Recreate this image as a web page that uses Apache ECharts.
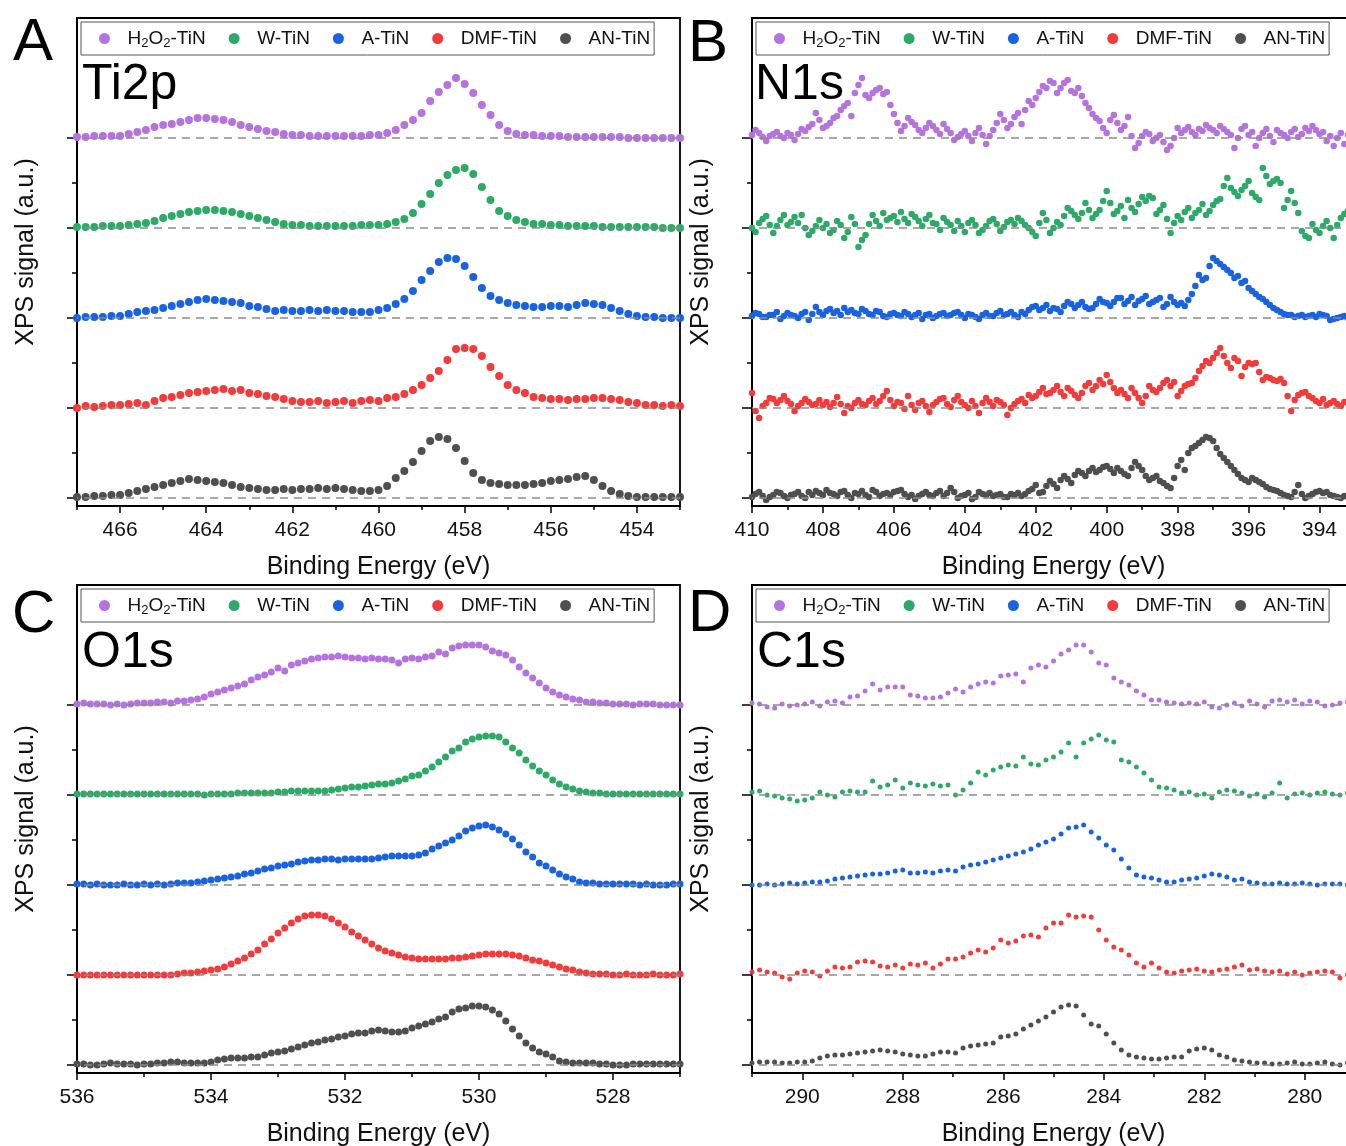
<!DOCTYPE html>
<html>
<head>
<meta charset="utf-8">
<title>XPS spectra</title>
<script src="https://cdn.jsdelivr.net/npm/echarts@6/dist/echarts.min.js"></script>
<style>
  body { margin: 0; background: #fff; }
  #main { width: 1346px; height: 1146px; }
</style>
</head>
<body>
<div id="main"></div>
<script>
// samples, top to bottom
var sampleNames = ['H2O2-TiN', 'W-TiN', 'A-TiN', 'DMF-TiN', 'AN-TiN'];
var sampleColors = ['#B473DE', '#2EAA68', '#1A63E0', '#F23B3B', '#4F4F4F'];
// vertical offset of each stacked spectrum (a.u.)
var baselines = [360, 270, 180, 90, 0];
var minorLevels = [45, 135, 225, 315];

// ---- Ti2p ----
var ti2pStart = 467, ti2pStep = 0.2;
var ti2pTicks = [454, 456, 458, 460, 462, 464, 466];
var ti2pMinorTicks = [453, 455, 457, 459, 461, 463, 465, 467];
var ti2pH2O2 = [1,1,2,2,2,2,4,6,8,11,13,14,16,18,20,20,19,18,16,13,11,9,7,6,4,3,3,2,2,2,2,2,2,2,3,3,5,8,13,18,25,37,46,53,60,54,45,33,23,13,7,4,3,3,2,2,2,1,1,1,1,1,1,1,0,0,0,0,0,0,0];
var ti2pW = [1,1,1,2,2,2,3,4,5,7,10,12,14,16,17,18,18,17,16,14,12,10,8,6,4,3,3,2,2,2,2,2,2,3,3,3,4,6,9,15,24,34,45,53,58,60,54,41,28,17,12,8,6,4,4,3,3,2,2,2,2,1,1,1,1,1,1,1,0,0,0];
var ti2pA = [0,1,1,1,2,2,4,6,7,8,10,12,14,16,18,19,18,17,16,15,12,11,9,7,8,7,7,8,7,8,7,7,6,6,6,8,10,14,19,27,38,47,56,60,59,52,41,30,22,18,15,13,12,11,11,12,12,11,13,15,14,13,10,7,4,2,1,1,0,0,0];
var ti2pDMF = [0,2,1,2,3,3,4,5,3,7,10,11,13,15,16,17,18,19,17,18,15,14,12,11,9,7,6,6,7,5,6,7,5,7,8,7,10,11,14,18,23,30,37,48,59,60,59,52,41,32,23,18,15,11,10,9,9,8,9,9,10,10,9,8,6,5,3,3,2,3,2];
var ti2pAN = [1,1,2,2,3,3,5,7,9,11,13,15,17,19,18,17,16,15,13,11,10,9,8,8,9,8,9,9,10,9,10,9,8,7,7,8,12,20,27,36,47,57,61,59,50,37,25,18,15,14,13,13,13,14,15,17,18,19,21,22,18,12,7,4,2,1,1,1,1,1,1];

// ---- N1s ----
var n1sStart = 410, n1sStep = 0.1;
var n1sTicks = [394, 396, 398, 400, 402, 404, 406, 408, 410];
var n1sMinorTicks = [393, 395, 397, 399, 401, 403, 405, 407, 409];
var n1sH2O2 = [
    3,8,5,1,-3,2,4,6,2,0,5,3,-2,4,9,7,11,14,25,18,
    10,12,15,20,22,28,32,35,22,45,53,60,43,40,45,48,50,44,46,33,
    24,15,7,12,20,16,13,8,5,10,15,12,8,4,14,9,5,-2,1,4,
    7,2,-3,5,10,3,-6,2,8,15,24,18,10,14,21,25,14,28,37,33,
    40,46,52,50,57,55,45,50,55,58,47,45,50,42,35,30,24,20,17,10,
    5,18,23,15,8,12,21,2,-10,-5,2,6,4,-3,0,3,-4,-12,-8,0,
    10,5,8,11,6,3,9,7,13,10,8,5,12,9,6,3,-10,0,9,12,
    3,6,-8,0,5,9,2,-4,8,5,3,0,6,9,1,4,10,7,12,8,
    4,6,-3,2,-8,0,5,-6,3,7,2];
var n1sW = [
    0,-4,5,9,12,3,-5,2,8,13,3,6,11,5,13,0,-7,-3,2,8,
    0,4,-5,-2,7,3,-10,-4,11,4,-19,-12,-7,4,13,7,2,15,8,10,
    12,6,16,9,5,14,11,7,2,9,13,5,4,-2,10,6,3,-3,7,2,
    -4,5,8,3,-5,-2,2,7,9,4,-3,1,6,8,4,10,7,3,0,-4,
    -8,5,15,8,-5,0,6,3,12,20,17,13,9,15,25,18,10,14,18,27,
    37,25,14,17,22,10,28,20,16,24,31,27,32,30,14,18,23,9,-5,5,
    12,8,16,20,10,15,18,24,13,17,23,27,29,42,50,40,36,32,38,42,
    47,35,31,28,60,52,44,47,49,45,20,28,37,25,15,-3,-8,-10,4,-2,
    -5,2,7,0,-10,3,10,14,17,8,2];
var n1sA = [
    2,5,4,1,1,3,3,6,-1,2,5,3,2,0,4,6,-2,4,11,6,
    3,7,9,5,7,3,10,6,8,5,4,9,7,4,3,7,6,2,1,4,
    5,3,2,6,4,1,3,5,-1,3,4,0,2,4,5,2,3,5,6,3,
    0,4,3,1,-1,3,5,2,2,5,7,3,4,6,3,1,6,4,8,11,
    12,8,10,13,7,10,9,6,12,16,14,10,13,16,11,9,10,14,19,16,
    15,12,16,20,20,14,17,21,13,17,19,22,14,16,18,20,11,14,21,16,
    13,15,12,18,24,32,43,38,40,52,60,57,54,51,48,45,40,42,35,37,
    30,27,24,21,19,16,13,10,8,6,4,3,3,1,2,3,1,2,3,1,
    4,3,2,-2,-1,0,1,2,0,-1,1];
var n1sDMF = [
    15,-3,-10,2,5,10,9,5,8,12,7,4,-3,2,5,9,6,3,4,8,
    3,6,1,5,11,4,-5,2,0,5,8,4,3,7,10,4,7,12,17,8,
    2,6,5,-1,12,3,-2,5,7,2,-4,3,6,9,10,4,1,8,12,6,
    3,0,7,2,-5,5,10,6,2,8,6,3,-7,0,4,7,9,5,13,10,
    12,16,20,14,15,18,22,16,12,20,17,13,10,15,22,25,18,22,28,24,
    33,26,20,15,18,14,10,20,15,10,5,12,22,18,16,20,25,28,22,26,
    12,17,22,24,25,30,37,42,47,45,50,55,60,52,45,40,50,47,32,41,
    45,44,45,36,28,31,30,28,27,29,25,12,-3,8,13,15,16,12,10,7,
    5,9,3,5,7,4,2,6,5,1,4];
var n1sAN = [
    1,4,6,2,-2,1,3,6,5,2,0,3,4,6,2,0,6,3,7,5,
    3,8,5,4,2,6,7,3,0,5,4,7,3,1,8,6,2,4,5,3,
    6,7,8,4,1,3,-1,2,4,6,3,2,5,7,2,5,10,6,0,2,
    3,5,-1,1,6,4,3,5,2,3,4,1,1,4,3,5,2,4,7,9,
    13,5,6,12,17,14,10,18,22,19,15,23,27,25,22,27,30,26,28,31,
    32,29,25,30,27,24,22,30,36,32,28,22,18,20,22,17,15,12,10,20,
    32,38,28,45,50,52,55,58,61,60,57,50,44,40,36,32,28,24,20,18,
    16,20,18,16,14,11,9,8,7,5,3,2,1,6,13,4,0,2,4,6,
    7,5,6,3,2,1,0,2,1,0,2];

// ---- O1s ----
var o1sStart = 536, o1sStep = 0.1;
var o1sTicks = [528, 530, 532, 534, 536];
var o1sMinorTicks = [527, 529, 531, 533, 535];
var o1sH2O2 = [1,2,1,1,1,0,1,0,1,2,2,2,3,3,2,4,4,5,6,8,11,13,15,17,19,21,25,28,30,33,37,34,40,42,44,46,47,48,48,49,48,47,47,46,47,46,46,45,42,46,47,46,48,49,53,51,57,59,60,60,60,58,54,52,50,45,38,32,27,22,17,13,10,8,6,5,3,3,2,2,1,1,1,0,1,1,1,0,0,0,0];
var o1sW = [1,1,1,1,1,1,1,1,1,1,1,1,1,1,1,1,1,1,1,0,1,1,1,1,2,2,2,2,2,2,3,3,4,4,4,4,4,4,5,6,7,8,8,9,10,11,11,12,14,16,19,20,24,28,33,38,44,47,53,56,58,59,59,58,53,47,42,35,29,24,20,15,11,8,6,4,3,2,2,1,1,1,1,1,1,1,1,1,1,1,1];
var o1sA = [1,1,0,1,0,0,0,1,0,0,1,0,1,0,1,2,2,2,3,4,5,6,7,8,9,11,12,14,16,17,19,20,21,23,24,25,25,26,26,25,26,26,26,26,26,27,28,29,29,29,29,30,32,36,39,42,45,49,54,57,59,60,58,55,51,46,40,33,28,22,19,15,11,8,6,3,2,2,1,1,1,1,1,1,0,1,0,0,0,1,1];
var o1sDMF = [0,0,0,0,0,0,0,0,0,0,0,0,0,0,0,1,2,2,3,4,5,6,8,11,14,17,21,25,31,36,42,47,52,56,59,60,60,59,56,52,48,43,39,35,31,27,24,22,20,18,17,16,16,16,16,16,17,17,18,19,20,21,21,21,21,20,19,17,15,14,12,10,8,6,5,3,2,1,1,1,0,0,1,0,0,0,1,0,0,0,1];
var o1sAN = [1,1,0,0,1,2,1,1,1,0,1,1,2,2,3,3,2,2,2,2,3,5,6,7,7,7,8,8,10,12,13,14,16,18,20,22,23,25,26,28,29,31,32,32,34,35,34,33,33,34,37,39,41,43,46,48,53,56,57,59,59,58,55,51,44,36,29,22,17,13,11,8,4,3,2,2,2,2,1,1,0,0,0,1,1,1,1,1,1,1,1];

// ---- C1s ----
var c1sStart = 291, c1sStep = 0.15;
var c1sTicks = [280, 282, 284, 286, 288, 290];
var c1sMinorTicks = [279, 281, 283, 285, 287, 289, 291];
var c1sH2O2 = [2,1,-2,-3,1,-1,0,1,3,-1,3,4,2,8,9,14,21,15,18,18,18,10,9,7,7,8,12,16,13,18,21,23,22,29,30,31,23,37,40,38,44,51,55,60,60,53,42,40,27,23,20,14,10,5,5,3,2,1,2,1,3,-2,-3,0,2,-1,4,1,-2,4,5,3,5,1,4,3,-1,0,2,3,1];
var c1sW = [3,4,0,-1,-3,-4,-6,-5,-3,3,0,-2,3,4,3,3,14,8,10,15,7,12,10,9,11,9,10,0,5,12,23,20,25,28,30,29,38,31,30,35,38,43,52,38,52,56,60,55,53,35,33,28,22,15,8,7,5,2,3,0,1,-3,3,5,4,2,-1,1,-2,2,12,-3,1,2,0,2,3,1,0,2,1];
var c1sA = [0,0,1,0,1,2,1,2,3,3,4,6,7,8,9,10,11,11,12,14,15,12,12,13,12,14,15,14,18,20,21,23,25,27,29,31,33,36,40,43,46,51,57,58,60,53,47,40,35,26,17,10,8,7,5,3,3,5,6,7,9,11,10,8,5,6,3,2,1,1,2,1,1,2,1,0,1,1,1,0,0];
var c1sDMF = [3,5,3,2,-2,-4,2,4,3,-1,4,8,7,8,13,14,13,9,8,10,7,11,10,12,7,11,16,16,18,22,25,23,27,35,32,34,39,40,38,47,52,52,60,58,59,58,45,35,28,25,20,12,8,12,7,3,2,4,5,6,4,3,5,6,8,10,5,6,4,3,4,1,3,0,2,3,4,3,-3,0,2];
var c1sAN = [2,3,3,3,2,2,3,3,4,7,9,10,10,11,12,13,14,15,14,13,11,10,9,9,11,13,13,12,17,19,20,21,22,28,29,31,36,40,44,48,53,58,60,59,50,41,39,31,22,15,10,8,7,6,6,7,8,8,14,16,17,15,10,8,5,4,3,2,2,1,1,2,3,1,1,2,3,1,0,2,0];

var panels = [
    { title: 'Ti2p', letter: 'A', start: ti2pStart, step: ti2pStep, min: 453, max: 467,
      ticks: ti2pTicks, minorTicks: ti2pMinorTicks, data: [ti2pH2O2, ti2pW, ti2pA, ti2pDMF, ti2pAN] },
    { title: 'N1s', letter: 'B', start: n1sStart, step: n1sStep, min: 393, max: 410,
      ticks: n1sTicks, minorTicks: n1sMinorTicks, data: [n1sH2O2, n1sW, n1sA, n1sDMF, n1sAN] },
    { title: 'O1s', letter: 'C', start: o1sStart, step: o1sStep, min: 527, max: 536,
      ticks: o1sTicks, minorTicks: o1sMinorTicks, data: [o1sH2O2, o1sW, o1sA, o1sDMF, o1sAN] },
    { title: 'C1s', letter: 'D', start: c1sStart, step: c1sStep, min: 279, max: 291,
      ticks: c1sTicks, minorTicks: c1sMinorTicks, data: [c1sH2O2, c1sW, c1sA, c1sDMF, c1sAN] }
];

// where each panel sits on the page
var boxes = [
    { left: 77, top: 18, dot: 8, letterX: 13, letterY: 43, titleX: 82, titleY: 85, yNameX: 26, yNameY: 252 },
    { left: 752, top: 18, dot: 6.5, letterX: 688, letterY: 44, titleX: 755, titleY: 85, yNameX: 701, yNameY: 252 },
    { left: 77, top: 585, dot: 7, letterX: 12, letterY: 615, titleX: 82, titleY: 653, yNameX: 26, yNameY: 819 },
    { left: 752, top: 585, dot: 5, letterX: 688, letterY: 614, titleX: 757, titleY: 653, yNameX: 701, yNameY: 819 }
];

var font = '"Liberation Sans", Arial, sans-serif';
var black = { color: '#000', width: 1.8 };

var chart = echarts.init(document.getElementById('main'));
var option = {
    animation: false,
    backgroundColor: '#fff',
    grid: [], xAxis: [], yAxis: [], legend: [], series: [], graphic: []
};

panels.forEach(function (p, k) {
    var b = boxes[k];
    option.grid.push({
        left: b.left, top: b.top, width: 603, height: 488, outerBoundsMode: 'none',
        show: true, borderColor: '#000', borderWidth: 1.8, backgroundColor: 'transparent'
    });
    // major ticks + labels
    option.xAxis.push({
        type: 'value', gridIndex: k, position: 'bottom', min: p.min, max: p.max, inverse: true,
        axisLine: { onZero: false, lineStyle: black },
        axisTick: { customValues: p.ticks, length: 7, lineStyle: { color: '#000', width: 1.5 } },
        axisLabel: { customValues: p.ticks, margin: 14, fontSize: 21, color: '#111', fontFamily: font },
        splitLine: { show: false },
        name: 'Binding Energy (eV)', nameLocation: 'middle', nameGap: 49,
        nameTextStyle: { fontSize: 25, color: '#111', fontFamily: font }
    });
    // minor ticks
    option.xAxis.push({
        type: 'value', gridIndex: k, position: 'bottom', min: p.min, max: p.max, inverse: true,
        axisLine: { show: false, onZero: false },
        axisTick: { customValues: p.minorTicks, length: 4, lineStyle: { color: '#000', width: 1.5 } },
        axisLabel: { show: false }, splitLine: { show: false }
    });
    option.yAxis.push({
        type: 'value', gridIndex: k, position: 'left', min: -8, max: 480,
        axisLine: { show: true, onZero: false, lineStyle: black },
        axisTick: { customValues: baselines, length: 10, lineStyle: { color: '#000', width: 1.5 } },
        axisLabel: { show: false }, splitLine: { show: false }
    });
    option.yAxis.push({
        type: 'value', gridIndex: k, position: 'left', min: -8, max: 480,
        axisLine: { show: false, onZero: false },
        axisTick: { customValues: minorLevels, length: 5, lineStyle: { color: '#000', width: 1.5 } },
        axisLabel: { show: false }, splitLine: { show: false }
    });

    // dashed baselines, under the dots
    option.series.push({
        type: 'scatter', xAxisIndex: 2 * k, yAxisIndex: 2 * k, data: [], z: 1, silent: true,
        markLine: {
            silent: true, symbol: 'none', animation: false, label: { show: false },
            lineStyle: { type: [8, 6], color: '#8c8c8c', width: 1.6 },
            data: baselines.map(function (y) { return { yAxis: y }; })
        }
    });

    p.data.forEach(function (vals, s) {
        option.series.push({
            name: sampleNames[s], type: 'scatter', xAxisIndex: 2 * k, yAxisIndex: 2 * k,
            symbolSize: b.dot, z: 3, silent: true,
            itemStyle: { color: sampleColors[s], opacity: 1 },
            data: vals.map(function (v, i) {
                return [+(p.start - i * p.step).toFixed(2), baselines[s] + v];
            })
        });
    });

    option.legend.push({
        left: b.left + 4, top: b.top + 4, data: sampleNames, selectedMode: false,
        icon: 'circle', itemWidth: 36, itemHeight: 11, itemGap: 23,
        padding: [5, 4, 5, 18], borderColor: '#555', borderWidth: 1, backgroundColor: '#fff',
        formatter: function (name) {
            return name === 'H2O2-TiN' ? 'H{sub|2}O{sub|2}-TiN' : name;
        },
        textStyle: {
            fontSize: 19, color: '#111', fontFamily: font, lineHeight: 22,
            rich: { sub: { fontSize: 13, lineHeight: 12, padding: [10, 0, 0, 0], fontFamily: font, color: '#111' } }
        }
    });

    option.graphic.push(
        { type: 'text', x: b.letterX, y: b.letterY, silent: true,
          style: { text: p.letter, font: '60px ' + font, fill: '#000', textAlign: 'left', textVerticalAlign: 'middle' } },
        { type: 'text', x: b.titleX, y: b.titleY, silent: true,
          style: { text: p.title, font: '50px ' + font, fill: '#000', textAlign: 'left', textVerticalAlign: 'middle' } },
        { type: 'text', x: b.yNameX, y: b.yNameY, rotation: Math.PI / 2, silent: true,
          style: { text: 'XPS signal (a.u.)', font: '25px ' + font, fill: '#111', textAlign: 'center', textVerticalAlign: 'middle' } }
    );
});

chart.setOption(option);
</script>
</body>
</html>
